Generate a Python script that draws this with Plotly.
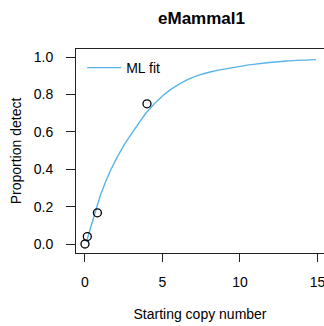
import plotly.graph_objects as go

# Observed data points
obs_x = [0.0, 0.15, 0.8, 4.0]
obs_y = [0.0, 0.04, 0.167, 0.75]

# ML fit curve
fit_x = [0.1, 0.26, 0.58, 1.01, 1.66, 2.52, 3.59, 3.98, 5.05, 6.13, 7.2, 8.28, 9.35, 10.86, 13.0, 14.9]
fit_y = [0.01, 0.059, 0.147, 0.263, 0.396, 0.529, 0.66, 0.705, 0.796, 0.858, 0.899, 0.924, 0.941, 0.961, 0.979, 0.986]

x_ticks = [0, 5, 10, 15]
y_ticks = [0.0, 0.2, 0.4, 0.6, 0.8, 1.0]
y_tick_text = ["0.0", "0.2", "0.4", "0.6", "0.8", "1.0"]

FONT = "Liberation Sans, Arial, Helvetica, sans-serif"
AX = "#222222"

fig = go.Figure()
fig.add_trace(go.Scatter(
    x=fit_x, y=fit_y, mode="lines", name="ML fit",
    line=dict(color="#56B4E9", width=1.4, shape="spline", smoothing=0.6),
))
fig.add_trace(go.Scatter(
    x=obs_x, y=obs_y, mode="markers", showlegend=False,
    marker=dict(symbol="circle-open", size=8, color="black", line=dict(width=1.3, color="black")),
))

fig.update_layout(
    width=324, height=326,
    margin=dict(l=76, r=0, t=49, b=73),
    paper_bgcolor="white", plot_bgcolor="white",
    font=dict(family=FONT, size=14, color="black"),
    title=dict(text="<b>eMammal1</b>", x=(76 + 327) / 2 / 324, xanchor="center",
               y=1 - 18 / 326, yanchor="middle", font=dict(size=17, family=FONT)),
    showlegend=True,
    legend=dict(x=0.025, y=0.985, xanchor="left", yanchor="top", bgcolor="rgba(0,0,0,0)",
                font=dict(size=14, family=FONT), itemwidth=34),
    xaxis=dict(
        range=[-0.58, 15.42], tickvals=x_ticks, ticks="outside", ticklen=8, tickwidth=1,
        tickcolor=AX, showline=True, linecolor=AX, linewidth=1, mirror=True,
        showgrid=False, zeroline=False, ticklabelstandoff=8, ticklabeloverflow="allow",
        title=dict(text="Starting copy number", standoff=20, font=dict(size=14)),
    ),
    yaxis=dict(
        range=[-0.048, 1.043], tickvals=y_ticks, ticktext=y_tick_text, ticks="outside",
        ticklen=9, tickwidth=1, tickcolor=AX, showline=True, linecolor=AX, linewidth=1,
        mirror=False, showgrid=False, zeroline=False, ticklabelstandoff=10,
        title=dict(text="Proportion detect", standoff=8, font=dict(size=14)),
    ),
)

fig.write_html("out.html")
